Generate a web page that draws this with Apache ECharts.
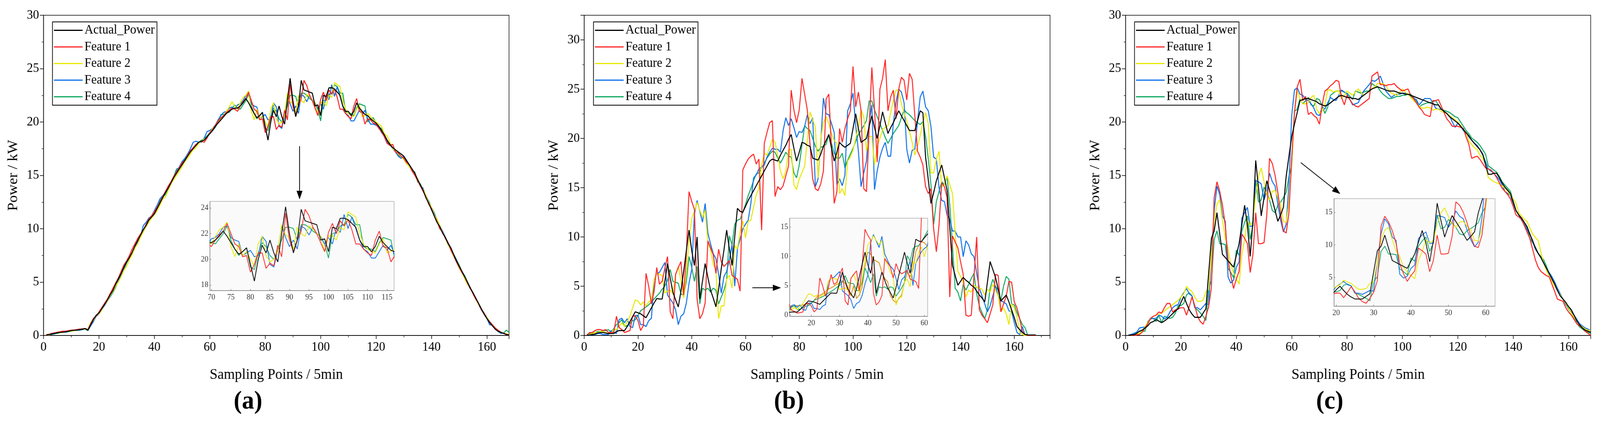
<!DOCTYPE html>
<html><head><meta charset="utf-8">
<script src="https://cdn.jsdelivr.net/npm/echarts@6/dist/echarts.min.js"></script>
<style>html,body{margin:0;padding:0;background:#fff;overflow:hidden}#c{width:4300px;height:1110px;transform-origin:0 0}</style>
</head><body><div id="c"></div>
<script>
const seriesNames = ['Actual_Power','Feature 1','Feature 2','Feature 3','Feature 4'];
const panelLabels = ['(a)','(b)','(c)'];
const insetXTicksA = [70,75,80,85,90,95,100,105,110,115];
const insetYTicksA = [18,20,22,24];
const insetXTicksB = [20,30,40,50,60];
const insetYTicksB = [0,5,10,15];
const insetXTicksC = [20,30,40,50,60];
const insetYTicksC = [5,10,15];

// ---------- Panel (a) ----------
const aActual = [
0.05,0.1,0.15,0.2,0.25,0.3,0.3,0.35,0.4,0.45,
0.5,0.5,0.55,0.6,0.65,0.5,1.0,1.5,1.9,2.1,
2.5,2.9,3.3,3.8,4.2,4.8,5.3,5.8,6.4,6.9,
7.3,7.8,8.4,8.9,9.4,9.9,10.3,10.8,11.1,11.4,
11.9,12.4,12.9,13.4,13.8,14.3,14.8,15.2,15.6,16.0,
16.4,16.8,17.2,17.5,17.8,18.1,18.2,18.3,18.6,18.9,
19.2,19.6,19.9,20.2,20.5,20.8,21.0,21.2,21.3,21.3,
21.5,21.8,22.2,21.8,21.3,20.8,20.4,20.6,20.9,19.6,
18.3,20.0,21.1,20.5,21.5,20.5,19.8,22.0,24.1,22.0,
20.5,21.5,23.9,23.0,22.9,22.8,22.7,21.5,21.6,20.6,
22.5,22.4,23.2,23.2,23.1,22.8,22.5,21.5,21.0,21.0,
20.6,21.0,21.8,21.3,21.0,20.7,20.6,20.3,20.1,19.9,
19.6,19.2,18.8,18.3,17.9,17.6,17.4,17.2,17.0,16.8,
16.4,16.0,15.6,15.2,14.6,14.1,13.6,12.9,12.4,11.8,
11.2,10.6,10.2,9.6,9.2,8.6,8.2,7.6,7.0,6.5,
6.0,5.5,5.0,4.4,4.0,3.5,3.0,2.5,2.0,1.6,
1.2,0.9,0.6,0.4,0.3,0.2,0.1,0.05];
const aF1 = [
0,0.1,0.2,0.25,0.3,0.35,0.4,0.4,0.45,0.5,
0.5,0.55,0.6,0.6,0.65,0.55,1.1,1.6,1.8,2.2,
2.6,3.0,3.4,3.9,4.4,4.9,5.4,6.0,6.6,7.0,
7.5,8.1,8.6,9.1,9.5,9.9,10.4,10.9,11.2,11.6,
12.0,12.5,13.0,13.5,14.0,14.4,14.9,15.3,15.7,16.2,
16.4,16.9,17.3,17.6,17.9,18.1,18.2,18.1,18.5,19.0,
19.3,19.7,20.1,20.4,20.6,20.9,21.1,21.3,21.2,21.0,
21.5,21.9,22.2,22.8,22.0,21.2,21.0,20.2,20.3,19.0,
19.6,20.5,20.5,19.3,19.7,19.5,21.1,20.2,23.6,21.5,
20.6,21.5,22.2,23.9,23.4,22.5,22.0,21.3,20.6,22.1,
22.8,22.0,23.0,22.6,23.1,22.3,21.2,21.2,20.8,20.5,
20.3,21.5,22.2,21.0,20.9,19.8,20.3,20.2,19.9,19.8,
19.4,19.1,18.6,18.0,17.8,17.9,17.2,17.1,16.8,16.6,
16.2,16.0,15.4,15.0,14.5,14.0,13.5,13.0,12.3,11.9,
11.2,10.7,10.0,9.7,9.1,8.7,8.0,7.5,6.9,6.4,
5.9,5.5,4.9,4.5,3.9,3.4,3.0,2.4,2.1,1.6,
1.3,1.0,0.7,0.5,0.3,0.2,0.1,0.0];
const aF2 = [
0.1,0.05,0.2,0.2,0.3,0.25,0.3,0.35,0.4,0.4,
0.45,0.5,0.55,0.6,0.6,0.6,1.2,1.4,1.9,2.0,
2.4,2.9,3.2,3.7,4.1,4.6,5.0,5.5,6.1,6.5,
7.1,7.6,8.2,8.6,9.2,9.7,10.2,10.6,11.0,11.3,
11.7,12.2,12.8,13.0,13.6,14.2,14.6,15.0,15.4,15.8,
16.3,16.6,17.0,17.4,17.6,18.0,18.2,18.4,18.5,19.0,
19.4,19.6,20.0,20.3,20.6,21.0,21.4,21.9,21.5,21.2,
21.8,22.3,22.5,22.9,21.0,20.2,21.2,20.3,20.6,20.0,
19.5,21.2,21.8,20.3,19.8,20.0,20.6,22.7,21.9,21.7,
20.8,22.5,22.0,21.8,22.6,22.4,22.0,21.8,20.6,21.8,
21.9,21.5,22.5,22.3,23.7,23.5,23.3,22.0,21.2,20.8,
20.6,20.5,21.2,21.6,20.5,20.6,20.8,20.5,20.2,20.0,
19.8,19.6,18.9,18.7,18.1,17.5,17.3,17.0,16.8,16.5,
16.1,15.8,15.4,15.1,14.7,14.0,13.7,13.1,12.5,12.0,
11.3,10.9,10.3,9.7,9.1,8.5,8.0,7.4,6.9,6.3,
5.9,5.3,4.8,4.4,3.9,3.4,2.9,2.5,2.0,1.7,
1.3,1.0,0.7,0.5,0.3,0.2,0.15,0.1];
const aF3 = [
0.0,0.1,0.1,0.2,0.3,0.3,0.3,0.3,0.4,0.45,
0.5,0.5,0.5,0.55,0.6,0.5,0.9,1.3,1.8,2.0,
2.4,2.8,3.2,3.6,4.1,4.6,5.1,5.7,6.3,6.9,
7.2,7.6,8.3,8.8,9.3,10.3,10.6,11.0,11.2,11.7,
12.2,12.8,13.1,13.4,13.9,14.2,14.8,15.4,15.8,16.3,
16.6,17.0,17.5,18.1,18.2,18.1,18.1,18.5,19.1,19.2,
19.4,19.7,20.2,20.6,20.9,21.0,21.3,21.4,21.2,21.6,
21.7,22.0,22.5,22.6,21.7,21.5,21.4,20.3,20.5,20.7,
20.2,20.3,21.8,21.4,19.6,19.4,20.7,22.6,21.7,21.0,
21.5,20.8,22.6,22.4,21.9,22.5,22.0,21.8,21.2,21.7,
21.2,22.4,22.1,23.5,22.4,23.3,22.4,21.5,20.8,20.6,
20.1,20.1,20.6,21.1,20.7,21.1,20.3,19.8,19.8,19.7,
19.5,19.0,18.7,18.1,17.9,17.5,17.2,16.8,16.6,16.8,
16.4,15.9,15.6,15.0,14.7,14.0,13.8,13.0,12.6,11.9,
11.4,10.9,10.3,9.8,9.2,8.7,8.2,7.6,7.1,6.4,
6.0,5.4,5.0,4.5,3.9,3.5,2.9,2.4,2.0,1.6,
1.0,1.0,0.7,0.4,0.2,0.2,0.1,0.1];
const aF4 = [
0.1,0.1,0.1,0.15,0.2,0.25,0.3,0.3,0.35,0.4,
0.45,0.5,0.5,0.55,0.6,0.45,0.9,1.4,1.9,2.0,
2.5,2.9,3.3,3.6,4.0,4.5,5.1,5.6,6.2,6.8,
7.3,7.8,8.3,8.9,9.3,9.7,10.4,10.9,11.1,11.6,
11.9,12.6,13.0,13.2,13.8,14.4,14.9,15.6,15.7,16.1,
16.5,17.0,17.2,17.6,17.9,18.1,18.3,18.4,18.7,19.0,
19.2,19.5,20.0,20.7,20.7,20.9,20.9,21.3,21.6,21.3,
21.2,21.6,22.0,22.6,21.5,20.8,20.3,20.6,20.9,19.4,
19.2,20.5,21.3,21.0,20.3,20.0,20.8,21.5,22.5,22.5,
22.4,21.5,22.7,22.7,22.5,22.2,22.0,21.8,21.2,20.1,
22.0,22.1,22.6,22.7,23.5,23.3,22.7,22.7,21.0,20.8,
20.8,20.6,21.3,21.7,21.6,21.5,20.0,20.3,20.4,19.9,
19.5,19.4,18.7,18.2,18.0,17.5,17.3,16.9,16.6,16.7,
16.2,16.0,15.5,15.3,14.4,14.2,13.6,13.1,12.6,12.0,
11.5,10.8,10.2,9.7,9.1,8.6,8.1,7.6,7.1,6.6,
6.0,5.6,5.0,4.5,4.0,3.4,3.0,2.5,2.1,1.7,
1.3,1.0,0.6,0.4,0.2,0.2,0.5,0.3];

// ---------- Panel (b) ----------
const bActual = [
0.0,0.05,0.1,0.15,0.25,0.3,0.3,0.25,0.2,0.2,
0.2,0.4,0.5,0.5,0.5,0.9,1.4,1.9,2.4,2.3,
2.2,2.0,1.8,2.3,2.8,3.3,3.75,3.7,3.7,5.5,
7.3,5.8,4.4,3.6,2.9,4.5,6.5,8.6,10.7,8.6,
7.1,10.0,3.7,5.5,7.3,5.9,4.6,3.8,2.9,4.7,
6.8,8.7,10.7,8.8,7.1,10.0,12.9,12.6,12.5,13.1,
13.7,14.2,14.7,15.2,15.7,16.2,16.7,17.2,17.7,17.9,
17.8,17.7,18.3,18.8,19.3,19.9,20.4,19.0,17.7,18.6,
19.6,19.5,19.3,19.2,18.0,17.9,17.8,18.4,19.2,19.8,
20.4,19.0,17.7,18.6,19.6,19.3,19.1,19.3,19.5,21.0,
22.5,21.0,19.6,19.8,20.0,21.2,22.3,21.1,20.0,21.3,
22.7,21.6,20.5,21.1,21.6,22.2,22.8,22.3,21.8,21.3,
20.8,20.8,20.8,21.8,22.8,22.6,18.1,15.8,13.4,14.5,
15.7,16.5,17.3,16.0,14.7,10.9,7.1,6.1,5.1,5.5,
5.9,5.6,5.4,5.1,4.9,4.5,4.1,3.8,3.4,5.4,
7.5,6.7,5.9,4.7,3.5,3.8,4.1,3.4,2.6,1.8,
0.9,0.6,0.3,0.1,0.05,0.05,0.05,0.05];
const bF1 = [
0.0,0.3,0.3,0.5,0.6,0.6,0.5,0.6,0.3,0.3,
0.3,1.95,0.8,0.6,0.3,0.4,0.5,1.95,2.0,1.5,
0.5,1.0,6.3,5.0,3.2,4.5,6.9,5.2,5.5,6.8,
8.0,2.4,1.7,6.2,6.9,7.5,4.1,8.3,14.6,13.6,
12.8,3.7,1.7,2.2,3.3,9.6,8.9,8.2,6.3,8.75,
7.5,7.0,7.3,7.6,6.1,5.9,5.7,4.5,16.8,17.4,
17.9,18.2,18.4,17.4,17.9,10.7,19.5,20.6,21.6,21.8,
14.1,15.1,14.8,15.2,16.2,17.2,24.9,22.9,21.6,22.9,
26.1,24.5,22.9,19.4,15.9,14.9,14.7,15.4,16.7,24.0,
24.5,19.0,13.4,14.6,21.0,19.6,21.0,22.0,22.8,27.3,
23.2,24.7,22.8,14.9,14.6,21.0,27.2,22.9,17.6,25.0,
26.1,28.0,22.8,24.2,24.9,22.0,25.0,26.2,25.9,23.9,
26.6,26.0,22.3,18.7,18.1,17.3,15.1,14.4,14.9,10.8,
8.5,11.2,15.5,15.1,14.0,3.9,10.1,9.5,8.9,7.5,
6.2,2.05,1.95,2.05,6.0,10.0,2.6,2.05,1.7,1.3,
2.2,3.1,6.2,6.1,2.4,3.2,4.0,5.5,5.4,3.4,
2.8,1.7,0.4,0.1,0.0,0.0,0.0,0.0];
const bF2 = [
0.0,0.1,0.2,0.3,0.3,0.4,0.4,0.3,0.2,0.2,
0.6,0.6,0.9,1.3,0.9,1.4,1.95,2.8,3.6,3.5,
3.1,3.4,3.0,3.4,3.6,5.7,6.3,6.2,6.1,4.3,
4.5,4.6,4.2,6.2,7.0,5.6,3.8,6.3,9.5,11.9,
12.6,13.5,12.7,12.0,12.7,9.4,8.7,7.2,6.7,1.7,
3.0,3.0,5.7,6.1,4.8,9.1,8.8,10.6,11.6,9.9,
11.6,11.7,13.0,14.3,14.9,17.3,18.5,18.3,19.1,19.9,
19.6,18.3,16.7,15.9,16.7,18.8,18.9,15.3,14.8,15.9,
16.5,17.2,19.8,22.7,21.9,21.1,16.0,20.0,21.6,22.2,
21.5,20.5,19.8,19.5,14.4,14.9,14.2,17.7,18.1,18.8,
20.0,21.2,22.9,22.2,18.7,20.2,20.2,17.3,19.2,20.0,
20.9,21.1,21.3,22.6,23.8,24.9,24.9,23.5,22.6,21.8,
20.7,19.6,18.3,19.2,20.3,21.6,22.6,21.5,16.5,16.5,
17.9,18.7,15.1,15.3,16.2,15.3,14.4,10.5,6.5,6.0,
5.4,3.9,4.6,4.4,5.1,4.9,4.8,4.7,4.1,4.7,
4.4,5.2,4.6,4.0,2.4,2.8,2.2,1.1,3.2,2.8,
1.9,0.3,0.1,0.0,0.0,0.0,0.0,0.0];
const bF3 = [
0.0,0.0,0.1,0.1,0.2,0.2,0.1,0.1,0.1,0.5,
0.3,0.2,1.6,1.75,1.3,1.7,0.9,0.8,2.0,2.05,
1.1,1.1,0.9,1.5,1.75,5.6,6.3,6.4,6.9,7.4,
4.1,3.7,3.3,2.6,1.1,1.95,2.2,3.3,5.3,6.7,
12.3,13.7,12.6,11.5,13.4,10.4,9.3,8.3,7.8,6.2,
4.3,6.0,6.5,7.7,9.2,5.0,8.8,9.8,10.8,11.3,
11.7,13.4,16.0,16.3,16.9,17.1,17.3,18.1,18.6,19.0,
18.9,18.9,18.6,20.8,22.1,21.3,22.0,21.1,20.1,20.7,
20.6,21.2,22.4,21.5,22.1,15.1,15.9,19.6,24.1,22.5,
22.4,21.5,20.6,15.3,15.9,15.2,16.3,22.8,23.5,24.6,
21.3,18.7,15.1,16.5,17.7,21.6,23.4,14.8,16.7,18.1,
19.0,19.6,18.2,18.2,21.5,23.7,25.0,24.7,23.6,18.9,
17.5,18.8,18.9,21.8,24.2,24.8,23.2,22.8,21.2,18.1,
17.9,15.0,13.7,13.6,12.2,11.8,10.6,10.6,10.0,10.0,
8.0,9.6,9.2,8.3,8.0,6.3,4.8,4.0,3.2,2.4,
3.0,4.0,5.0,4.0,3.5,3.4,3.2,2.5,2.4,1.3,
0.3,0.1,0.9,0.0,0.0,0.0,0.0,0.0];
const bF4 = [
0.1,0.2,0.3,0.3,0.4,0.4,0.5,0.5,0.6,0.3,
0.7,1.1,1.3,1.6,0.9,1.0,1.2,1.5,1.6,2.0,
2.5,2.7,2.9,3.1,3.4,3.7,4.0,4.3,4.7,5.0,
5.6,6.7,5.5,5.4,5.3,4.2,4.1,5.5,8.0,6.9,
5.5,7.0,3.2,4.8,4.6,4.8,4.4,4.8,4.6,3.2,
3.9,4.6,5.6,10.1,9.2,11.3,11.7,11.8,12.5,13.3,
14.2,14.9,15.7,16.4,16.5,17.0,17.5,18.0,18.4,18.7,
18.6,18.0,17.5,18.0,18.6,18.2,18.1,16.5,16.0,17.3,
19.3,21.3,21.0,20.8,20.0,19.2,18.7,19.1,19.2,19.4,
20.4,19.5,18.5,18.0,18.0,18.5,17.0,17.8,18.4,19.0,
19.7,20.4,20.8,21.3,21.8,23.8,23.8,22.9,22.2,21.5,
20.8,20.1,19.5,20.0,20.5,20.9,21.3,22.1,22.9,22.6,
22.4,22.1,21.8,21.6,21.4,21.7,20.2,17.9,15.3,11.3,
13.6,14.6,15.6,15.3,16.1,13.2,9.1,4.8,4.4,3.5,
5.2,4.6,5.2,5.8,6.3,4.2,3.0,2.3,1.7,2.6,
4.8,5.7,5.0,4.6,3.5,5.0,6.0,5.7,3.2,3.1,
2.3,1.7,1.1,0.8,0.0,0.0,0.0,0.0];
// extra orange trace visible only in inset (b), x = 12..61
const bInsetExtra = [
1.5,1.5,1.5,1.6,1.6,1.7,1.8,1.9,2.0,
2.5,3.1,3.3,3.6,4.0,4.4,4.6,4.9,5.2,5.4,
5.8,5.4,4.1,3.3,5.0,2.8,3.4,4.7,8.3,10.7,
10.4,9.4,9.2,8.9,7.3,6.2,5.7,3.3,2.5,2.1,
2.8,3.4,5.5,7.3,6.5,7.8,10.8,11.8,12.5,12.3,
11.8];

// ---------- Panel (c) ----------
const cActual = [
0.0,0.05,0.05,0.2,0.4,0.5,0.7,0.9,1.2,1.3,
1.5,1.35,1.2,1.35,1.55,1.8,2.05,2.3,2.5,3.1,
3.66,3.0,2.4,2.0,1.7,1.7,1.7,2.1,2.5,5.8,
9.1,9.8,11.5,9.5,7.6,7.3,7.0,6.7,6.4,7.5,
8.6,10.4,12.2,10.3,7.4,10.7,16.4,13.8,11.2,12.9,
14.5,13.6,12.7,11.7,10.7,11.3,12.0,14.9,16.8,18.6,
19.8,20.9,22.0,22.1,22.2,22.2,22.1,22.0,21.9,21.7,
21.6,21.5,21.6,21.8,22.0,22.2,22.4,22.5,22.4,22.3,
22.3,22.2,22.2,22.1,22.3,22.5,22.7,22.9,23.1,23.2,
23.3,23.2,23.1,23.0,22.9,22.9,22.9,22.8,22.7,22.7,
22.6,22.6,22.5,22.4,22.3,22.2,22.1,22.0,21.9,21.8,
21.7,21.6,21.6,21.2,21.0,20.8,20.5,20.3,20.1,19.9,
19.6,19.3,19.0,18.7,18.3,18.0,17.7,17.4,17.0,16.0,
15.1,15.1,15.2,15.2,14.8,14.3,13.9,13.6,13.3,12.5,
11.7,11.3,11.0,10.6,10.2,9.5,8.9,8.2,7.7,7.3,
6.8,6.3,5.8,5.3,4.8,4.2,3.7,3.4,3.1,2.7,
2.4,1.9,1.35,1.0,0.7,0.5,0.4,0.3];
const cF1 = [
0.0,0.0,0.0,0.05,0.1,0.3,0.7,1.1,1.6,1.8,
1.9,2.2,2.1,2.6,3.0,3.0,2.2,2.4,2.5,2.6,
2.6,1.9,2.7,3.6,2.8,1.8,1.3,1.05,1.8,2.7,
4.5,12.9,14.4,13.5,12.2,10.3,7.1,5.6,4.4,5.3,
6.0,9.5,9.1,8.6,5.9,7.6,11.5,8.6,8.6,8.7,
11.3,16.6,16.1,15.0,13.4,11.3,9.8,9.6,11.5,16.6,
20.9,23.3,24.0,22.0,22.4,20.7,20.9,20.6,20.4,19.8,
21.6,22.9,23.1,23.4,23.6,23.9,23.8,22.3,21.6,22.5,
22.1,21.7,21.5,21.4,21.6,21.8,22.0,22.2,24.3,24.5,
24.7,23.5,23.5,23.4,23.5,23.5,23.6,23.3,23.1,22.9,
23.0,23.1,22.5,22.2,21.8,21.4,21.1,20.7,20.6,20.5,
22.0,22.0,22.1,21.5,20.9,20.3,20.0,19.6,19.6,19.6,
19.5,19.4,18.6,17.9,16.6,16.7,16.8,16.5,16.1,15.7,
15.6,15.5,15.2,14.8,14.3,13.8,13.5,13.2,12.8,12.1,
11.3,11.1,10.9,10.3,9.7,9.1,8.1,7.1,6.4,6.0,
5.8,5.6,5.5,4.8,4.1,3.4,3.3,3.2,2.6,2.2,
1.9,1.5,1.1,0.9,0.7,0.4,0.2,0.0];
const cF2 = [
0.0,0.0,0.05,0.1,0.2,0.4,0.8,1.2,1.6,1.8,
1.9,2.0,2.1,2.3,2.5,2.7,2.9,3.1,3.3,3.6,
3.9,4.6,4.3,4.1,3.6,3.2,3.2,3.3,4.1,4.3,
7.5,10.7,12.3,12.7,10.8,9.1,8.2,6.6,5.9,5.3,
4.8,7.6,9.0,10.8,10.3,10.7,13.2,14.9,15.7,14.4,
13.2,12.7,13.5,13.6,12.9,12.3,10.7,10.6,12.5,15.9,
20.9,22.9,22.2,21.7,21.7,21.8,22.3,22.5,21.2,20.8,
21.0,21.6,23.0,23.0,22.8,22.9,22.9,22.2,22.5,22.9,
22.7,22.5,22.8,23.1,22.8,22.5,22.7,22.9,23.1,23.3,
23.6,23.6,23.6,23.4,23.0,22.7,22.6,22.5,22.8,23.1,
22.8,22.6,22.3,22.0,21.8,21.5,21.3,21.3,21.4,21.3,
21.1,21.2,21.2,21.0,20.9,20.8,20.6,20.4,20.2,20.0,
19.7,19.3,19.0,18.2,17.9,17.6,17.4,16.9,16.6,16.1,
14.8,14.6,14.4,14.3,14.2,14.0,13.8,13.5,13.1,12.8,
12.4,11.5,11.2,10.9,10.7,10.1,9.5,9.2,8.9,7.8,
6.8,6.1,5.5,5.1,4.6,4.2,3.8,3.4,3.0,2.6,
2.1,1.7,1.35,1.0,0.8,0.6,0.5,0.45];
const cF3 = [
0.0,0.1,0.2,0.3,0.7,0.75,0.8,1.1,1.55,1.6,
1.6,1.9,1.8,1.55,1.7,2.2,2.6,2.8,2.9,3.6,
4.0,4.4,3.9,3.7,2.6,2.6,2.4,2.7,3.0,2.9,
7.5,11.7,14.0,13.2,11.2,10.7,5.5,4.9,5.2,6.4,
6.9,11.0,11.5,12.0,10.2,10.3,14.5,14.4,14.2,12.7,
13.5,15.2,14.4,14.0,12.3,10.8,9.7,10.4,14.2,20.6,
23.0,23.2,22.6,22.5,22.1,22.0,21.7,21.3,20.7,20.6,
21.4,21.2,21.8,22.3,22.1,22.0,22.5,23.0,22.8,22.6,
22.1,21.6,21.7,21.8,22.3,22.9,23.2,23.5,23.9,23.8,
24.0,24.3,23.6,22.9,22.6,22.3,22.5,22.6,22.6,22.7,
22.7,22.6,22.4,22.2,22.1,21.6,21.9,22.2,22.2,22.2,
21.8,21.3,21.2,21.2,21.0,20.8,20.6,20.0,19.5,19.9,
19.6,19.2,18.9,18.6,18.3,18.0,17.8,17.4,16.9,16.3,
15.6,15.4,15.2,14.9,14.6,14.1,13.5,13.3,13.1,12.4,
11.7,11.3,10.8,10.4,9.9,9.5,8.8,8.1,7.7,7.3,
6.8,6.3,5.9,5.5,5.0,4.4,3.9,3.4,2.9,2.6,
2.2,1.9,1.5,1.1,0.9,0.7,0.6,0.45];
const cF4 = [
0.05,0.05,0.1,0.2,0.4,0.4,0.4,1.3,1.6,1.6,
1.3,1.9,1.2,1.8,1.7,1.6,1.7,2.1,2.8,2.8,
3.0,3.8,4.0,3.7,2.6,2.4,2.1,1.8,1.4,4.4,
5.1,9.0,9.8,8.6,8.6,8.5,6.3,5.9,5.4,8.0,
7.5,9.8,10.6,11.2,9.0,10.3,14.6,12.5,12.7,13.9,
13.4,12.7,11.7,11.5,12.2,12.5,12.9,13.4,14.9,15.9,
21.0,21.2,22.2,21.7,22.0,22.3,21.6,21.5,22.2,22.1,
21.5,20.8,21.4,22.5,22.7,22.9,22.9,22.9,22.8,22.7,
22.4,22.1,22.9,22.8,22.7,22.8,22.9,22.9,23.6,23.4,
23.3,22.9,22.6,22.4,22.2,22.2,22.3,22.4,22.4,22.5,
22.5,22.6,22.6,22.3,22.0,21.4,21.6,21.7,21.8,21.8,
21.9,22.0,21.6,21.2,21.1,21.0,20.9,20.7,20.5,20.4,
20.0,19.6,19.2,18.9,18.5,18.3,18.1,17.8,17.4,17.0,
15.9,15.7,15.5,15.3,14.9,14.4,14.1,13.8,13.5,12.6,
11.7,11.3,11.0,10.6,10.1,9.1,8.7,8.3,7.7,7.4,
7.1,6.5,5.8,5.3,4.8,4.4,3.9,3.4,2.9,2.5,
2.1,1.6,1.1,0.8,0.6,0.4,0.3,0.2];

// ---------- build ----------
const COLORS = ['#000000','#ff2222','#e8e800','#0a6fe8','#0fa862'];
const FONT = 'Liberation Serif';
const panels = [
  {data:[aActual,aF1,aF2,aF3,aF4], grid:{left:117,top:39,width:1251,height:819}, xMax:168, yMax:30,
   inset:{left:564,top:515,width:495,height:228,xMin:69.6,xMax:116.8,yMin:17.57,yMax:24.52,xt:insetXTicksA,yt:insetYTicksA},
   legendLeft:141, labelX:673},
  {data:[bActual,bF1,bF2,bF3,bF4], grid:{left:1570,top:39,width:1252,height:819}, xMax:173.3, yMax:32.5,
   inset:{left:2122,top:558,width:371,height:251,xMin:12.3,xMax:61.2,yMin:-0.24,yMax:16.5,xt:insetXTicksB,yt:insetYTicksB},
   legendLeft:1595, labelX:2125},
  {data:[cActual,cF1,cF2,cF3,cF4], grid:{left:3025,top:39,width:1250,height:819}, xMax:168, yMax:30,
   inset:{left:3585,top:508,width:433,height:275,xMin:19.4,xMax:62.5,yMin:0.6,yMax:17.1,xt:insetXTicksC,yt:insetYTicksC},
   legendLeft:3049, labelX:3582}
];
const toPairs = (arr, start) => arr.map((v,i)=>[i+start, v]);

const grid=[], xAxis=[], yAxis=[], series=[], legend=[], graphic=[];
panels.forEach((p,pi)=>{
  const gi = grid.length;
  grid.push({left:p.grid.left, top:p.grid.top, width:p.grid.width, height:p.grid.height, show:true, borderColor:'#000', borderWidth:1.5, backgroundColor:'transparent'});
  xAxis.push({type:'value', gridIndex:gi, min:0, max:p.xMax, interval:20,
    name:'Sampling Points / 5min', nameLocation:'middle', nameGap:82, nameTextStyle:{fontFamily:FONT,fontSize:38,color:'#000'},
    axisLine:{onZero:false,lineStyle:{color:'#000',width:1.5}}, axisTick:{inside:false,length:9,lineStyle:{color:'#000',width:1.5}},
    minorTick:{show:true,splitNumber:2,length:5,lineStyle:{color:'#000',width:1.2}},
    axisLabel:{fontFamily:FONT,fontSize:33,color:'#000',margin:14, showMaxLabel:false, formatter:v=>(v%20===0&&v<=160)?String(v):''},
    splitLine:{show:false}});
  yAxis.push({type:'value', gridIndex:gi, min:0, max:p.yMax, interval:5,
    name:'Power / kW', nameLocation:'middle', nameGap:62, nameTextStyle:{fontFamily:FONT,fontSize:38,color:'#000'},
    axisLine:{lineStyle:{color:'#000',width:1.5}}, axisTick:{length:10,lineStyle:{color:'#000',width:1.5}},
    minorTick:{show:true,splitNumber:2,length:5,lineStyle:{color:'#000',width:1.2}},
    axisLabel:{fontFamily:FONT,fontSize:33,color:'#000',margin:12, formatter:v=>(v%5===0&&v<=30)?String(v):''},
    splitLine:{show:false}});
  const ins = p.inset;
  const ii = grid.length;
  grid.push({left:ins.left, top:ins.top, width:ins.width, height:ins.height, show:true, borderColor:'#888', borderWidth:1, backgroundColor:'#fafafa'});
  xAxis.push({type:'value', gridIndex:ii, min:ins.xMin, max:ins.xMax,
    axisLine:{onZero:false,lineStyle:{color:'#666',width:1}}, axisTick:{customValues:ins.xt,length:4,inside:true,lineStyle:{color:'#666'}},
    axisLabel:{customValues:ins.xt,fontFamily:FONT,fontSize:20,color:'#333',margin:8}, splitLine:{show:false}});
  yAxis.push({type:'value', gridIndex:ii, min:ins.yMin, max:ins.yMax,
    axisLine:{onZero:false,lineStyle:{color:'#666',width:1}}, axisTick:{customValues:ins.yt,length:4,inside:true,lineStyle:{color:'#666'}},
    axisLabel:{customValues:ins.yt,fontFamily:FONT,fontSize:20,color:'#333',margin:4}, splitLine:{show:false}});
  p.data.forEach((arr,si)=>{
    series.push({type:'line', name:seriesNames[si], xAxisIndex:gi, yAxisIndex:gi, data:toPairs(arr,1), symbol:'none', z:10-si,
      lineStyle:{color:COLORS[si], width:2.6}, itemStyle:{color:COLORS[si]}, animation:false});
  });
  if(pi===1){
    series.push({type:'line', name:'inset_extra', xAxisIndex:ii, yAxisIndex:ii, data:toPairs(bInsetExtra,12), symbol:'none', z:3,
      lineStyle:{color:'#d98a00', width:2}, itemStyle:{color:'#d98a00'}, animation:false, clip:true});
  }
  p.data.forEach((arr,si)=>{
    series.push({type:'line', name:seriesNames[si], xAxisIndex:ii, yAxisIndex:ii, data:toPairs(arr,1), symbol:'none', z:10-si, clip:true,
      lineStyle:{color:COLORS[si], width:2}, itemStyle:{color:COLORS[si]}, animation:false});
  });
  legend.push({data:seriesNames.map(n=>({name:n, icon:'rect'})), left:p.legendLeft, top:56, orient:'vertical', itemWidth:77, itemHeight:3, itemGap:9.5,
    padding:[5,6,5,4], borderColor:'#000', borderWidth:1.8, backgroundColor:'#fff', selectedMode:false,
    textStyle:{fontFamily:FONT,fontSize:33,color:'#000',lineHeight:32}});
  graphic.push({type:'text', left:p.labelX-45, top:995, style:{text:panelLabels[pi], font:'bold 66px "Liberation Serif"', fill:'#000'}});
});

// arrows (annotation pointers)
const arrows = [[805,374,805,510],[2022,736,2099,736],[3496,416,3602,496]];
arrows.forEach(a=>{
  const [x1,y1,x2,y2]=a; const ang=Math.atan2(y2-y1,x2-x1); const L=22, W=8;
  const bx=x2-L*Math.cos(ang), by=y2-L*Math.sin(ang);
  graphic.push({type:'line', shape:{x1,y1,x2:bx,y2:by}, style:{stroke:'#000',lineWidth:2}, z:100});
  graphic.push({type:'polygon', shape:{points:[[x2,y2],[bx+W*Math.sin(ang),by-W*Math.cos(ang)],[bx-W*Math.sin(ang),by+W*Math.cos(ang)]]}, style:{fill:'#000'}, z:100});
});

const el = document.getElementById('c');
const sx = (window.innerWidth||4300)/4300, sy = (window.innerHeight||1110)/1110;
if (Math.abs(sx-1)>0.002 || Math.abs(sy-1)>0.002) el.style.transform = 'scale('+sx+','+sy+')';
const chart = echarts.init(el, null, {renderer:'canvas'});
chart.setOption({backgroundColor:'#fff', animation:false, grid, xAxis, yAxis, series, legend, graphic});
</script></body></html>
